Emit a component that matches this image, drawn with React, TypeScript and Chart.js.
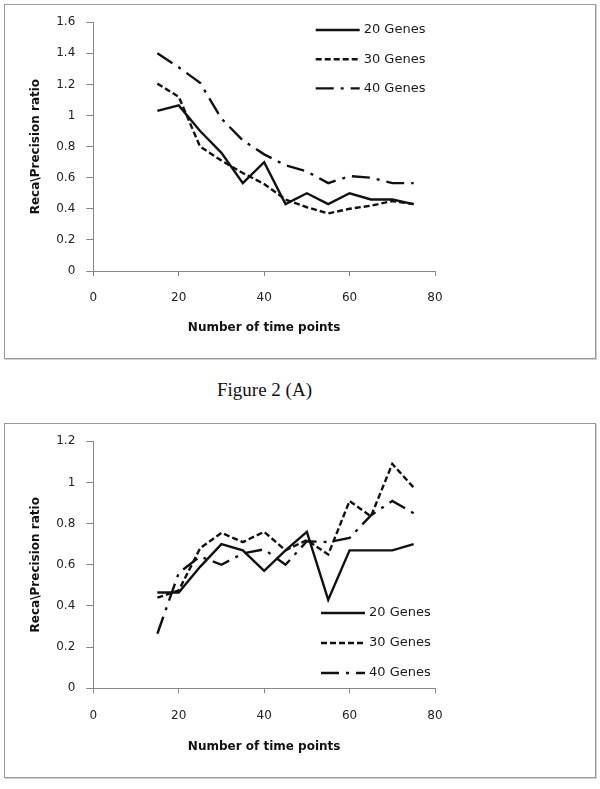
import React, { useEffect, useRef } from 'react';
import { Chart, registerables } from 'chart.js';

Chart.register(...registerables);

// ---- data ----
const timePoints = [15, 20, 25, 30, 35, 40, 45, 50, 55, 60, 65, 70, 75];
const seriesLabels = ['20 Genes', '30 Genes', '40 Genes'];

const a20 = [1.03, 1.065, 0.9, 0.76, 0.565, 0.7, 0.43, 0.5, 0.43, 0.5, 0.46, 0.46, 0.43];
const a30 = [1.205, 1.12, 0.8, 0.71, 0.63, 0.56, 0.46, 0.41, 0.37, 0.4, 0.42, 0.45, 0.43];
const a40 = [1.4, 1.31, 1.21, 0.98, 0.84, 0.75, 0.68, 0.64, 0.565, 0.61, 0.6, 0.565, 0.565];

const b20 = [0.465, 0.465, 0.59, 0.7, 0.67, 0.57, 0.67, 0.76, 0.43, 0.67, 0.67, 0.67, 0.7];
const b30 = [0.44, 0.475, 0.68, 0.755, 0.71, 0.76, 0.67, 0.72, 0.65, 0.91, 0.835, 1.09, 0.975];
const b40 = [0.265, 0.56, 0.64, 0.6, 0.655, 0.675, 0.6, 0.714, 0.71, 0.73, 0.84, 0.91, 0.85];

const xTitle = 'Number of time points';
const yTitle = 'Reca\\Precision ratio';
const caption = 'Figure 2 (A)';

const dashStyles: number[][] = [[], [6, 3], [18, 7, 3, 7]];

const inlineLegend = {
  id: 'inlineLegend',
  afterDraw(chart: any, _args: any, opts: any) {
    const { ctx } = chart;
    ctx.save();
    chart.data.datasets.forEach((ds: any, i: number) => {
      const y = opts.y + i * opts.gap;
      ctx.beginPath();
      ctx.setLineDash(ds.borderDash || []);
      ctx.lineWidth = ds.borderWidth;
      ctx.strokeStyle = ds.borderColor;
      ctx.moveTo(opts.x, y);
      ctx.lineTo(opts.x + opts.lineLen, y);
      ctx.stroke();
      ctx.setLineDash([]);
      ctx.fillStyle = '#1a1a1a';
      ctx.font = '13px "DejaVu Sans"';
      ctx.textBaseline = 'middle';
      ctx.textAlign = 'left';
      ctx.fillText(ds.label, opts.x + opts.lineLen + opts.textGap, y);
    });
    ctx.restore();
  },
};

type Props = {
  series: number[][];
  yMax: number;
  legend: { x: number; y: number; gap: number };
  top: number;
  bottom: number;
};

const W = 592;
const H = 355;
const PLOT_LEFT = 89.3;
const PLOT_RIGHT = 431;

function LineChart({ series, yMax, legend, top, bottom }: Props) {
  const ref = useRef<HTMLCanvasElement>(null);
  useEffect(() => {
    if (!ref.current) return;
    const axisColor = '#878787';
    const chart = new Chart(ref.current, {
      type: 'line',
      data: {
        datasets: series.map((vals, i) => ({
          label: seriesLabels[i],
          data: vals.map((v, j) => ({ x: timePoints[j], y: v })),
          borderColor: '#111',
          borderWidth: 2.4,
          borderDash: dashStyles[i],
          pointRadius: 0,
          tension: 0,
          fill: false,
        })),
      },
      options: {
        animation: false,
        responsive: false,
        layout: { padding: { left: 0, top: top, right: W - PLOT_RIGHT, bottom: 0 } },
        plugins: {
          legend: { display: false },
          tooltip: { enabled: false },
          inlineLegend: { ...legend, lineLen: 44, textGap: 4 },
        } as any,
        scales: {
          x: {
            type: 'linear',
            min: 0,
            max: 80,
            ticks: {
              stepSize: 20,
              padding: 15,
              color: '#222',
              font: { family: 'DejaVu Sans', size: 12 },
            },
            grid: {
              drawOnChartArea: false,
              drawTicks: true,
              tickLength: 5,
              color: axisColor,
              tickColor: axisColor,
            },
            border: { display: true, color: axisColor, width: 1 },
            title: {
              display: true,
              text: xTitle,
              color: '#111',
              font: { family: 'DejaVu Sans', size: 12, weight: 'bold' },
              padding: { top: 0, bottom: 24 },
            },
            afterFit: (s: any) => {
              s.height = H - bottom;
            },
          },
          y: {
            type: 'linear',
            min: 0,
            max: yMax,
            ticks: {
              stepSize: 0.2,
              padding: 11,
              color: '#222',
              font: { family: 'DejaVu Sans', size: 12 },
              callback: (v: any) => String(Number(Number(v).toFixed(1))),
            },
            grid: {
              drawOnChartArea: false,
              drawTicks: true,
              tickLength: 7,
              color: axisColor,
              tickColor: axisColor,
            },
            border: { display: true, color: axisColor, width: 1 },
            title: {
              display: true,
              text: yTitle,
              color: '#111',
              font: { family: 'DejaVu Sans', size: 12, weight: 'bold' },
              padding: { top: 25, bottom: 0 },
            },
            afterFit: (s: any) => {
              s.width = PLOT_LEFT;
            },
          },
        },
      },
      plugins: [inlineLegend],
    } as any);
    return () => chart.destroy();
  }, [series, yMax, legend, top, bottom]);
  return <canvas ref={ref} width={W} height={H} style={{ width: W, height: H, display: 'block' }} />;
}

const legendA = { x: 311.7, y: 26, gap: 29.2 };
const legendB = { x: 317, y: 190, gap: 30 };
const seriesA = [a20, a30, a40];
const seriesB = [b20, b30, b40];

function Panel({ left, top, children }: { left: number; top: number; children: React.ReactNode }) {
  return (
    <>
      <div style={{ position: 'absolute', left, top, width: W, height: H }}>{children}</div>
      <div
        style={{
          position: 'absolute',
          left,
          top,
          width: W,
          height: H,
          boxSizing: 'border-box',
          border: '1px solid #999',
          boxShadow: '1px 1px 0 #d0d0d0',
          pointerEvents: 'none',
        }}
      />
    </>
  );
}

export default function App() {
  return (
    <div style={{ position: 'absolute', left: 0, top: 0, width: 600, height: 789, background: '#fff' }}>
      <Panel left={4} top={4}>
        <LineChart series={seriesA} yMax={1.6} legend={legendA} top={18} bottom={267} />
      </Panel>
      <div
        style={{
          position: 'absolute',
          left: 217,
          top: 378,
          fontFamily: '"Liberation Serif", "Times New Roman", serif',
          fontSize: 19,
          lineHeight: '24px',
          color: '#111',
          whiteSpace: 'nowrap',
        }}
      >
        {caption}
      </div>
      <Panel left={4} top={423}>
        <LineChart series={seriesB} yMax={1.2} legend={legendB} top={17} bottom={265.3} />
      </Panel>
    </div>
  );
}
